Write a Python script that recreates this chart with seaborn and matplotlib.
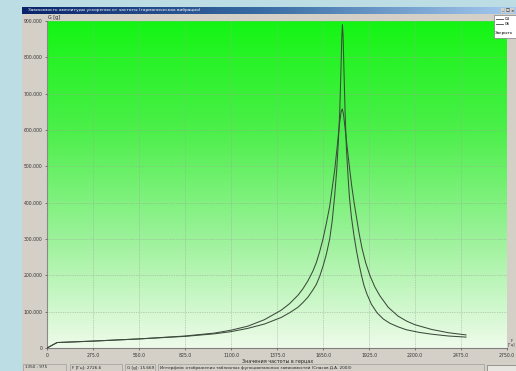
import numpy as np
import pandas as pd
import matplotlib
matplotlib.use("Agg")
import matplotlib.pyplot as plt
from matplotlib.colors import LinearSegmentedColormap
from matplotlib.patches import Rectangle
from matplotlib.lines import Line2D
import seaborn as sns

# данные
freq_04 = [0, 60, 275, 550, 825, 1000, 1100, 1200, 1300, 1400, 1450, 1500, 1530, 1560,
           1590, 1610, 1630, 1650, 1670, 1690, 1705, 1720, 1732, 1742, 1750, 1757, 1762,
           1766, 1770, 1775, 1782, 1790, 1800, 1808, 1820, 1835, 1850, 1865, 1880, 1895,
           1913, 1940, 1973, 2010, 2050, 2100, 2150, 2225, 2300, 2400, 2505]
amp_04 = [0, 15, 19, 25, 32, 39, 45, 54, 66, 84, 97, 112, 125, 140,
          160, 175, 197, 225, 258, 300, 350, 420, 490, 570, 650, 760, 850,
          890, 860, 770, 650, 550, 470, 415, 360, 310, 268, 232, 200, 172,
          148, 120, 97, 80, 68, 58, 50, 43, 38, 33, 30]
freq_06 = [0, 60, 275, 550, 825, 1000, 1100, 1200, 1300, 1400, 1450, 1500, 1530, 1560,
           1590, 1610, 1630, 1650, 1670, 1690, 1705, 1720, 1735, 1748, 1758, 1765, 1772,
           1782, 1795, 1810, 1822, 1836, 1850, 1866, 1883, 1905, 1930, 1960, 1991, 2040,
           2098, 2150, 2200, 2300, 2400, 2505]
amp_06 = [0, 15, 19, 25, 33, 41, 49, 60, 78, 104, 122, 145, 163, 185,
          212, 235, 265, 300, 343, 390, 440, 490, 555, 615, 650, 658, 645,
          605, 550, 490, 445, 400, 360, 315, 275, 235, 200, 168, 143, 112,
          88, 74, 64, 51, 42, 36]
series_names = ["04", "06"]
x_ticks = [0, 275, 550, 825, 1100, 1375, 1650, 1925, 2200, 2475, 2750]
y_ticks = [0, 100, 200, 300, 400, 500, 600, 700, 800, 900]

W, H = 516, 371


def fx(px):
    return px / W


def fy(py):
    return 1 - py / H


fig = plt.figure(figsize=(W / 100, H / 100), dpi=100)
fig.patch.set_facecolor("#bcdde3")
plt.rcParams["font.family"] = ["DejaVu Sans"]

# окно приложения
fig.patches.append(Rectangle((fx(22), 0), fx(494), fy(7), transform=fig.transFigure,
                             facecolor="#d4d0c8", edgecolor="none", zorder=-5))

# заголовок окна
tax = fig.add_axes([fx(22), fy(14), fx(494), 7 / H])
tgrad = np.linspace(0, 1, 256).reshape(1, -1)
tcmap = LinearSegmentedColormap.from_list("title", ["#0a246a", "#3a6ea5", "#a6caf0"])
tax.imshow(tgrad, aspect="auto", cmap=tcmap, extent=[0, 1, 0, 1])
tax.set_axis_off()
tax.text(0.012, 0.5, "Зависимость амплитуды ускорения от частоты (гармоническая вибрация)",
         color="white", fontsize=3.2, va="center", ha="left")
for i, s in enumerate(["_", "□", "×"]):
    tax.text(0.972 + i * 0.01, 0.45, s, color="black", fontsize=3, va="center", ha="center",
             bbox=dict(boxstyle="square,pad=0.1", fc="#d4d0c8", ec="none"))

# основной график
ax = fig.add_axes([fx(47), fy(348), fx(460), 327 / H])
gcmap = LinearSegmentedColormap.from_list("green", ["#eefbea", "#9cf29a", "#4cef4a", "#14f514"])
grad = np.linspace(0, 1, 256).reshape(-1, 1)
ax.imshow(grad, aspect="auto", cmap=gcmap, origin="lower", extent=[0, 2750, 0, 900], zorder=0)

df = pd.concat([
    pd.DataFrame({"f": freq_04, "a": amp_04, "s": series_names[0]}),
    pd.DataFrame({"f": freq_06, "a": amp_06, "s": series_names[1]}),
])
sns.lineplot(data=df, x="f", y="a", hue="s", palette=["#3c4a3c", "#3c4a3c"],
             linewidth=0.75, legend=False, sort=False, ax=ax, zorder=3)

ax.set_xlim(0, 2750)
ax.set_ylim(0, 900)
ax.set_xticks(x_ticks)
ax.set_xticklabels(["0"] + [f"{v:.1f}" for v in x_ticks[1:]])
ax.set_yticks(y_ticks)
ax.set_yticklabels(["0"] + [f"{v}.000" for v in y_ticks[1:]])
ax.tick_params(labelsize=3.3, length=1.5, width=0.4, colors="#333333", pad=2)
ax.grid(True, color="#9aa89a", linestyle=(0, (1, 1.5)), linewidth=0.5)
ax.set_axisbelow(False)
for sp in ["top", "right"]:
    ax.spines[sp].set_visible(False)
for sp in ["left", "bottom"]:
    ax.spines[sp].set_color("#808080")
    ax.spines[sp].set_linewidth(0.8)
ax.set_xlabel("")
ax.set_ylabel("")

fig.text(fx(48), fy(17), "G [g]", fontsize=3.5, va="center", ha="left", color="#222222")
fig.text(fx(278), fy(361), "Значения частоты в герцах", fontsize=3.5, va="center",
         ha="center", color="#222222")
fig.text(fx(511.5), fy(343), "F\n[Гц]", fontsize=2.6, va="center", ha="center",
         color="#222222", linespacing=0.9)

# легенда
fig.patches.append(Rectangle((fx(494), fy(38)), fx(22), 23 / H, transform=fig.transFigure,
                             facecolor="white", edgecolor="#808080", linewidth=0.5, zorder=5))
for i, name in enumerate(series_names):
    yy = fy(19 + 5 * i)
    fig.lines.append(Line2D([fx(496), fx(503)], [yy, yy], transform=fig.transFigure,
                            color="#3c4a3c", linewidth=0.6, zorder=6))
    fig.text(fx(505), yy, name, fontsize=3, va="center", ha="left", zorder=6)
fig.text(fx(495), fy(33), "Закрыть", fontsize=3, va="center", ha="left", zorder=6)

# строка состояния
fields = [(23, 66, "1350 : 975"), (70, 122, "F [Гц]: 2726.6"), (125, 155, "G [g]: 15.669"),
          (158, 484, "Интерфейс отображения табличных функциональных зависимостей (Спасов Д.А. 2003)")]
for x0, x1, txt in fields:
    fig.patches.append(Rectangle((fx(x0), fy(371)), fx(x1 - x0), 7 / H, transform=fig.transFigure,
                                 facecolor="#d4d0c8", edgecolor="#909090", linewidth=0.4, zorder=2))
    fig.text(fx(x0 + 2), fy(367.5), txt, fontsize=3, va="center", ha="left", color="#222222", zorder=3)
fig.patches.append(Rectangle((fx(487), fy(371)), fx(29), 6 / H, transform=fig.transFigure,
                             facecolor="#e8e6e0", edgecolor="#606060", linewidth=0.4, zorder=2))

fig.savefig("out.png", dpi=100, facecolor=fig.get_facecolor())
